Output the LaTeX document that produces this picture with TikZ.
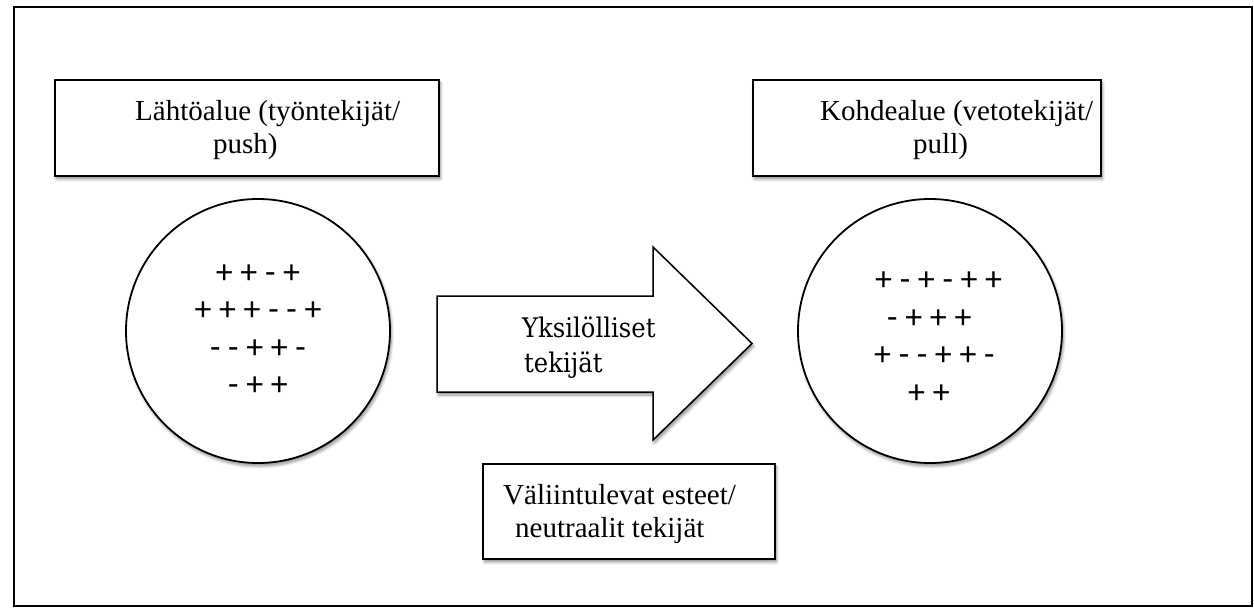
\documentclass[tikz,border=0pt]{standalone}
\usepackage{fontspec}
\setmainfont{Liberation Serif}
\newfontfamily\arrowfont[FakeStretch=0.9]{DejaVu Serif}
\newfontfamily\signfont{Carlito}
\usetikzlibrary{shadows,shadows.blur}
\begin{document}
\begin{tikzpicture}[x=1pt,y=-1pt,
  shad/.style={blur shadow={shadow xshift=1.5pt,shadow yshift=-3pt,shadow opacity=45,shadow blur radius=3pt,shadow blur steps=6}},
  box/.style={draw=black,line width=1.8pt,fill=white,shad,rectangle,inner sep=0pt,anchor=north west},
  ring/.style={draw=black,line width=1.8pt,fill=white,shad,circle,inner sep=0pt,minimum size=264pt},
  lab/.style={font=\fontsize{29}{33}\selectfont,anchor=base west,inner sep=0pt},
  alab/.style={font=\arrowfont\fontsize{27}{32}\selectfont,anchor=base west,inner sep=0pt},
  sgn/.style={font=\signfont\fontsize{34}{40}\selectfont,inner sep=0pt,anchor=base west}]
\path[use as bounding box] (0,0) rectangle (1254,608);
\draw[line width=1.4pt] (14,7) rectangle (1252,606);
% top boxes
\node[box,minimum width=384pt,minimum height=96pt] (src) at (54,79) {};
\node[lab] (srcA) at (135,120) {Lähtöalue (työntekijät/};
\node[lab] (srcB) at (213,153) {push)};
\node[box,minimum width=348pt,minimum height=96pt] (dst) at (752,79) {};
\node[lab] (dstA) at (820,120) {Kohdealue (vetotekijät/};
\node[lab] (dstB) at (913,153) {pull)};
% circles
\node[ring] (srcC) at (258,331) {};
\node[ring] (dstC) at (930,331) {};
% signs left
\node[sgn,anchor=base] (l1) at (258,283) {+ + - +};
\node[sgn,anchor=base] (l2) at (258,320) {+ + + - - +};
\node[sgn,anchor=base] (l3) at (258,358) {- - + + -};
\node[sgn,anchor=base] (l4) at (258,395) {- + +};
% signs right
\node[sgn] (r1) at (875,290) {+ - + - + +};
\node[sgn] (r2) at (887,328) {- + + +};
\node[sgn] (r3) at (874,365) {+ - - + + -};
\node[sgn] (r4) at (908,403) {+ +};
% arrow
\draw[line width=1.5pt,fill=white,shad] (437,296) -- (653,296) -- (653,247) -- (752,343.5) -- (653,440) -- (653,392) -- (437,392) -- cycle;
\node[alab] (arA) at (522,337) {Yksilölliset};
\node[alab] (arB) at (524,372) {tekijät};
% bottom box
\node[box,minimum width=292pt,minimum height=95pt] (mid) at (482,463) {};
\node[lab] (midA) at (503,504) {Väliintulevat esteet/};
\node[lab] (midB) at (515,537) {neutraalit tekijät};
\end{tikzpicture}
\end{document}
